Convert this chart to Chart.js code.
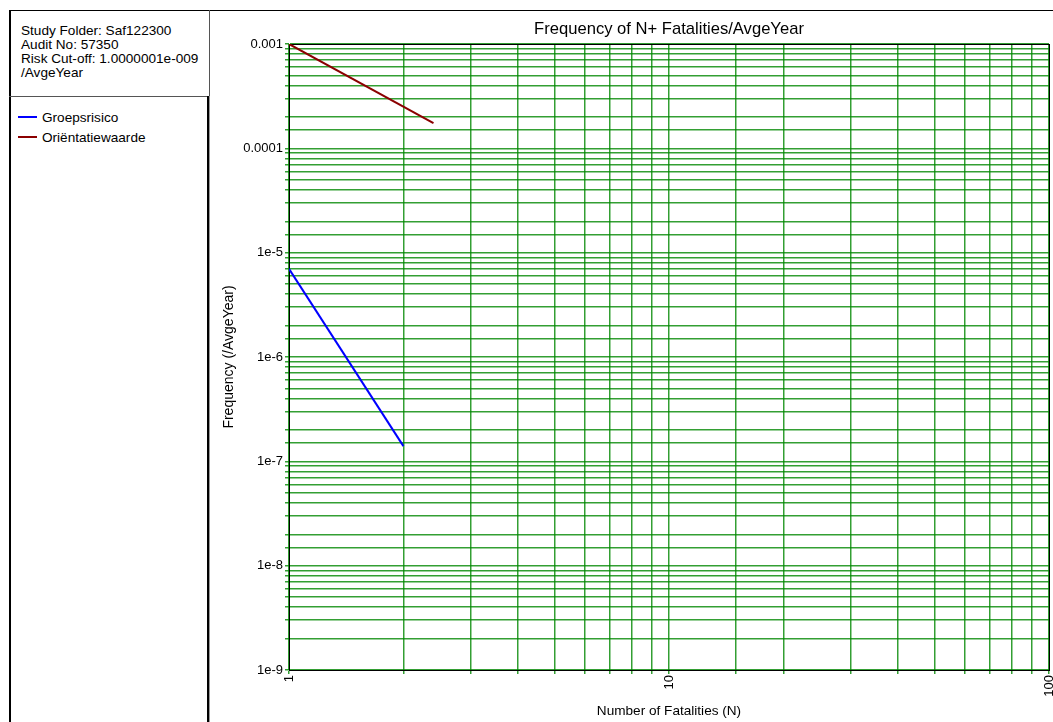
<!DOCTYPE html>
<html>
<head>
<meta charset="utf-8">
<script src="https://cdn.jsdelivr.net/npm/chart.js@4.4.0/dist/chart.umd.min.js"></script>
<style>
  html, body { margin: 0; padding: 0; background: #fff; overflow: hidden; }
  body { width: 1053px; height: 722px; position: relative; font-family: "Liberation Sans", Arial, sans-serif; font-size: 13.6px; color: #000; }
  .ln { position: absolute; background: #000; }
  #info { position: absolute; left: 21px; top: 24px; line-height: 14px; white-space: nowrap; }
  #legend { position: absolute; left: 18px; top: 107px; white-space: nowrap; }
  #legend .row { display: flex; align-items: center; height: 20px; }
  #legend .sw { display: block; width: 19px; height: 2px; margin-right: 5px; }
  #wrap { position: absolute; left: 210px; top: 12px; width: 843px; height: 710px; }
</style>
</head>
<body>
<div class="ln" style="left:9px;top:10px;width:1044px;height:1px"></div>
<div class="ln" style="left:9px;top:10px;width:2px;height:712px"></div>
<div class="ln" style="left:209px;top:10px;width:1px;height:86px;background:#555"></div>
<div class="ln" style="left:9px;top:96px;width:200px;height:1px;background:#555"></div>
<div class="ln" style="left:207px;top:96px;width:2px;height:626px"></div>
<div class="ln" style="left:209px;top:96px;width:1px;height:626px;background:#999"></div>
<div id="info">Study Folder: Saf122300<br>Audit No: 57350<br>Risk Cut-off: 1.0000001e-009<br>/AvgeYear</div>
<div id="legend"></div>
<div id="wrap"><canvas id="c"></canvas></div>
<script>
const seriesNames = ['Groepsrisico', 'Oriëntatiewaarde'];
const seriesColors = ['#0000ff', '#8b0000'];
const groepsN = [1, 2];
const groepsF = [7.0e-6, 1.4e-7];
const orientN = [1, 2.4];
const orientF = [1e-3, 1.74e-4];
const xTickValues = [1, 10, 100];
const xTickLabels = ['1', '10', '100'];
const yTickValues = [1e-9, 1e-8, 1e-7, 1e-6, 1e-5, 1e-4, 1e-3];
const yTickLabels = ['1e-9', '1e-8', '1e-7', '1e-6', '1e-5', '0.0001', '0.001'];

const FONT = '"Liberation Sans", Arial, sans-serif';
const GRID = 'rgba(0,135,0,0.8)';

document.getElementById('legend').innerHTML = seriesNames.map((n, i) =>
  `<div class="row"><span class="sw" style="background:${seriesColors[i]}"></span>${n}</div>`).join('');

function labelFor(values, labels, v) {
  for (let i = 0; i < values.length; i++) {
    if (Math.abs(Math.log10(v) - Math.log10(values[i])) < 1e-6) return labels[i];
  }
  return '';
}

const plotFrame = {
  id: 'plotFrame',
  beforeDatasetsDraw(chart) {
    const {ctx, chartArea: a} = chart;
    ctx.save();
    ctx.strokeStyle = '#000';
    ctx.lineWidth = 1;
    ctx.strokeRect(Math.round(a.left) + 0.5, Math.round(a.top) + 0.5,
      Math.round(a.right - a.left), Math.round(a.bottom - a.top));
    ctx.restore();
  },
  afterDraw(chart) {
    const {ctx, chartArea: a} = chart;
    ctx.save();
    ctx.fillStyle = '#000';
    ctx.font = '16.6px ' + FONT;
    ctx.textAlign = 'center';
    ctx.textBaseline = 'middle';
    ctx.fillText('Frequency of N+ Fatalities/AvgeYear', (a.left + a.right) / 2, 17);
    ctx.restore();
  }
};

new Chart(document.getElementById('c').getContext('2d'), {
  type: 'line',
  data: {
    datasets: [
      {
        label: seriesNames[0],
        data: groepsN.map((n, i) => ({x: n, y: groepsF[i]})),
        borderColor: seriesColors[0],
        borderWidth: 2,
        pointRadius: 0
      },
      {
        label: seriesNames[1],
        data: orientN.map((n, i) => ({x: n, y: orientF[i]})),
        borderColor: seriesColors[1],
        borderWidth: 2,
        pointRadius: 0
      }
    ]
  },
  plugins: [plotFrame],
  options: {
    responsive: true,
    maintainAspectRatio: false,
    animation: false,
    layout: { padding: { top: 32, right: 4, left: 0, bottom: 0 } },
    plugins: {
      legend: { display: false },
      title: { display: false },
      tooltip: { enabled: false }
    },
    scales: {
      x: {
        type: 'logarithmic',
        min: 1,
        max: 100,
        afterFit(s) { s.height = 52; s.paddingLeft = 0; s.paddingRight = 0; },
        border: { color: '#000', width: 1 },
        grid: { color: GRID, lineWidth: 1.5, tickLength: 4, tickColor: GRID },
        ticks: {
          autoSkip: false,
          maxRotation: 90,
          minRotation: 90,
          padding: 1,
          color: '#000',
          font: { family: FONT, size: 13 },
          callback: (v) => labelFor(xTickValues, xTickLabels, v)
        },
        title: {
          display: true,
          text: 'Number of Fatalities (N)',
          color: '#000',
          font: { family: FONT, size: 13.6 },
          padding: { top: 0, bottom: 3 }
        }
      },
      y: {
        type: 'logarithmic',
        min: 1e-9,
        max: 1e-3,
        afterFit(s) { s.width = 79; s.paddingTop = 0; s.paddingBottom = 0; },
        border: { color: '#000', width: 1 },
        grid: { color: GRID, lineWidth: 1.5, tickLength: 4, tickColor: GRID },
        ticks: {
          autoSkip: false,
          padding: 2,
          color: '#000',
          font: { family: FONT, size: 13 },
          callback: (v) => labelFor(yTickValues, yTickLabels, v)
        },
        title: {
          display: true,
          text: 'Frequency (/AvgeYear)',
          color: '#000',
          font: { family: FONT, size: 14 },
          padding: { top: 11, bottom: 0 }
        }
      }
    }
  }
});
</script>
</body>
</html>
